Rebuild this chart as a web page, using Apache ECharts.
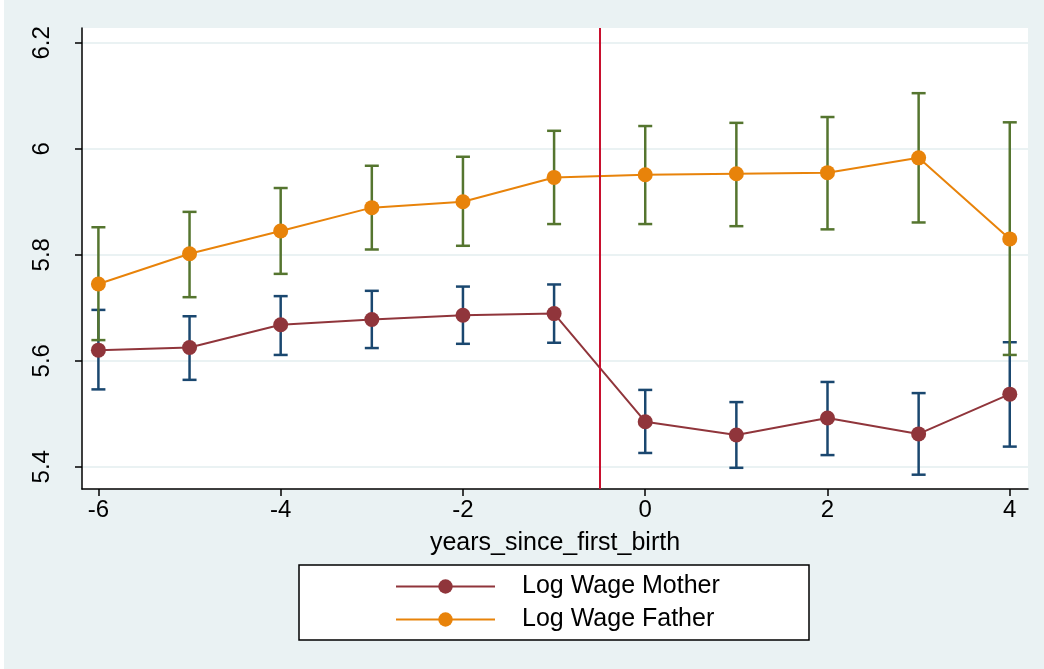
<html>
<head>
    <meta charset="utf-8">
    <title>Log wage event study</title>
    <script src="https://cdn.jsdelivr.net/npm/echarts@6/dist/echarts.min.js"></script>
    <style>
        body { margin: 0; background: #fff; }
        #main { width: 1040px; height: 669px; border-left: 4px solid #fff; }
    </style>
</head>
<body>
<div id="main"></div>
<script type="text/javascript">
    // data
    var years = [-6, -5, -4, -3, -2, -1, 0, 1, 2, 3, 4];
    var motherMean = [5.620, 5.625, 5.668, 5.678, 5.686, 5.689, 5.485, 5.460, 5.492, 5.462, 5.537];
    var motherHi   = [5.696, 5.684, 5.722, 5.732, 5.740, 5.744, 5.545, 5.522, 5.560, 5.539, 5.635];
    var motherLo   = [5.546, 5.564, 5.611, 5.624, 5.632, 5.634, 5.426, 5.398, 5.422, 5.385, 5.438];
    var fatherMean = [5.745, 5.802, 5.845, 5.889, 5.900, 5.946, 5.951, 5.953, 5.955, 5.983, 5.830];
    var fatherHi   = [5.852, 5.881, 5.926, 5.968, 5.985, 6.034, 6.043, 6.049, 6.060, 6.105, 6.050];
    var fatherLo   = [5.639, 5.720, 5.764, 5.810, 5.817, 5.858, 5.858, 5.854, 5.848, 5.861, 5.611];
    var xTicks = [-6, -4, -2, 0, 2, 4];
    var yTicks = [5.4, 5.6, 5.8, 6, 6.2];
    var eventLine = -0.5;

    var font = 'Arial, "Liberation Sans", Helvetica, sans-serif';

    function pairs(ys) {
        return years.map(function (x, i) { return [x, ys[i]]; });
    }
    function capData(lo, hi) {
        return years.map(function (x, i) { return [x, lo[i], hi[i]]; });
    }
    function capSeries(name, lo, hi, color) {
        return {
            name: name,
            type: 'custom',
            data: capData(lo, hi),
            z: 2,
            renderItem: function (params, api) {
                var bot = api.coord([api.value(0), api.value(1)]);
                var top = api.coord([api.value(0), api.value(2)]);
                var w = 7;
                var st = { stroke: color, lineWidth: 2.5 };
                return {
                    type: 'group',
                    children: [
                        { type: 'line', shape: { x1: top[0], y1: top[1], x2: bot[0], y2: bot[1] }, style: st },
                        { type: 'line', shape: { x1: top[0] - w, y1: top[1], x2: top[0] + w, y2: top[1] }, style: st },
                        { type: 'line', shape: { x1: bot[0] - w, y1: bot[1], x2: bot[0] + w, y2: bot[1] }, style: st }
                    ]
                };
            }
        };
    }

    var myChart = echarts.init(document.getElementById('main'));
    myChart.setOption({
        backgroundColor: '#eaf2f3',
        animation: false,
        grid: {
            left: 78, right: 16, top: 28, bottom: 180,
            show: true, backgroundColor: '#fff', borderWidth: 0
        },
        graphic: [{
            type: 'rect',
            shape: { x: 295, y: 565, width: 510, height: 75 },
            style: { fill: '#fff', stroke: '#000', lineWidth: 1.5 },
            z: 0
        }],
        legend: {
            data: ['Log Wage Mother', 'Log Wage Father'],
            orient: 'vertical',
            left: 386, top: 569,
            itemWidth: 99, itemHeight: 18, itemGap: 8,
            textStyle: { fontFamily: font, fontSize: 25, color: '#000', padding: [0, 0, 0, 22] },
            z: 5
        },
        xAxis: {
            type: 'value',
            min: -6.18, max: 4.2,
            name: 'years_since_first_birth',
            nameLocation: 'middle',
            nameGap: 42,
            nameTextStyle: { fontFamily: font, fontSize: 25, color: '#000' },
            axisLine: { show: true, onZero: false, lineStyle: { color: '#000', width: 1.5 } },
            axisTick: { show: true, length: 7, customValues: xTicks, lineStyle: { color: '#000', width: 1.5 } },
            axisLabel: { customValues: xTicks, margin: 9, fontFamily: font, fontSize: 24, color: '#000' },
            splitLine: { show: false }
        },
        yAxis: {
            type: 'value',
            min: 5.358, max: 6.228,
            axisLine: { show: true, onZero: false, lineStyle: { color: '#000', width: 1.5 } },
            axisTick: { show: true, length: 7, customValues: yTicks, lineStyle: { color: '#000', width: 1.5 } },
            axisLabel: {
                customValues: yTicks, rotate: 90, margin: 28,
                fontFamily: font, fontSize: 24, color: '#000',
                formatter: function (v) { return String(+v.toFixed(1)); }
            },
            splitLine: { show: true, lineStyle: { color: '#eaf2f3', width: 2 } }
        },
        series: [
            capSeries('mother ci', motherLo, motherHi, '#1a476f'),
            capSeries('father ci', fatherLo, fatherHi, '#55752f'),
            {
                name: 'Log Wage Mother',
                type: 'line',
                data: pairs(motherMean),
                symbol: 'circle', symbolSize: 15,
                itemStyle: { color: '#90353b' },
                lineStyle: { color: '#90353b', width: 2 },
                z: 3,
                markLine: {
                    silent: true, symbol: 'none',
                    label: { show: false },
                    lineStyle: { color: '#c8102e', width: 2, type: 'solid' },
                    data: [{ xAxis: eventLine }]
                }
            },
            {
                name: 'Log Wage Father',
                type: 'line',
                data: pairs(fatherMean),
                symbol: 'circle', symbolSize: 15,
                itemStyle: { color: '#e8830a' },
                lineStyle: { color: '#e8830a', width: 2 },
                z: 3
            }
        ]
    });
</script>
</body>
</html>
